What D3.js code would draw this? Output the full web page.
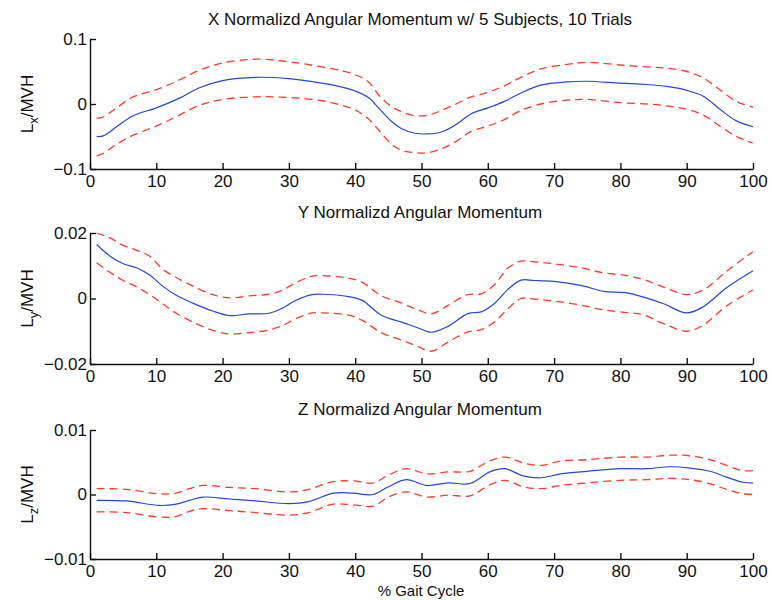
<!DOCTYPE html>
<html>
<head>
<meta charset="utf-8">
<script src="https://cdn.jsdelivr.net/npm/d3@7"></script>
<style>
body { margin: 0; background: #fff; }
svg text { font-family: "Liberation Sans", Arial, sans-serif; fill: #111; }
</style>
</head>
<body>
<div id="chart"></div>
<script>
// x ticks shared by all three panels
var gaitTicks = [0, 10, 20, 30, 40, 50, 60, 70, 80, 90, 100];

// X panel
var xPct = [1, 2, 4, 6.5, 10, 13.5, 16.5, 20, 25, 30, 35, 38, 40, 42, 43.7, 45.5, 47, 49, 51, 53, 55, 57.5, 60, 62.5, 65, 68, 72, 75, 80, 84, 87, 90, 92.5, 95, 97.5, 100];
var xMean = [-0.050, -0.049, -0.035, -0.018, -0.006, 0.009, 0.025, 0.036, 0.041, 0.039, 0.032, 0.026, 0.020, 0.010, -0.008, -0.027, -0.038, -0.045, -0.046, -0.043, -0.033, -0.015, -0.006, 0.004, 0.017, 0.029, 0.034, 0.035, 0.032, 0.030, 0.027, 0.021, 0.012, -0.008, -0.026, -0.035];
var xUpper = [-0.022, -0.020, -0.006, 0.011, 0.022, 0.037, 0.052, 0.063, 0.069, 0.065, 0.057, 0.051, 0.045, 0.034, 0.012, -0.004, -0.012, -0.018, -0.017, -0.010, -0.001, 0.011, 0.018, 0.028, 0.041, 0.054, 0.061, 0.064, 0.060, 0.057, 0.055, 0.050, 0.040, 0.022, 0.004, -0.005];
var xLower = [-0.080, -0.076, -0.062, -0.048, -0.034, -0.017, -0.002, 0.007, 0.011, 0.010, 0.005, -0.002, -0.009, -0.023, -0.042, -0.062, -0.071, -0.075, -0.075, -0.069, -0.059, -0.042, -0.034, -0.024, -0.010, 0.000, 0.006, 0.007, 0.002, 0.000, -0.003, -0.008, -0.017, -0.034, -0.050, -0.060];
var xTicks = [-0.1, 0, 0.1];

// Y panel
var yPct = [1, 3, 5, 7, 9, 11, 13, 15.5, 18.5, 21, 24, 27, 29, 31, 33.5, 35, 39, 41, 44, 47, 49.5, 51.5, 54, 57, 59, 61, 63, 65, 67, 70, 74, 77.5, 81, 83.5, 86.5, 90, 92.5, 96, 100];
var yMean = [0.0165, 0.0130, 0.0106, 0.0094, 0.0072, 0.0037, 0.0010, -0.0014, -0.0038, -0.0052, -0.0047, -0.0045, -0.0030, -0.0006, 0.0012, 0.0013, 0.0006, -0.0005, -0.0052, -0.0072, -0.0090, -0.0103, -0.0085, -0.0046, -0.0041, -0.0015, 0.0027, 0.0056, 0.0055, 0.0052, 0.0040, 0.0022, 0.0017, 0.0004, -0.0016, -0.0044, -0.0025, 0.0033, 0.0085];
var yUpper = [0.0200, 0.0185, 0.0162, 0.0148, 0.0129, 0.0089, 0.0064, 0.0038, 0.0012, 0.0002, 0.0008, 0.0013, 0.0025, 0.0048, 0.0068, 0.0070, 0.0062, 0.0050, 0.0008, -0.0014, -0.0035, -0.0047, -0.0021, 0.0012, 0.0014, 0.0042, 0.0092, 0.0114, 0.0112, 0.0106, 0.0094, 0.0078, 0.0070, 0.0058, 0.0035, 0.0012, 0.0026, 0.0083, 0.0143];
var yLower = [0.0109, 0.0080, 0.0055, 0.0036, 0.0012, -0.0017, -0.0045, -0.0072, -0.0097, -0.0108, -0.0104, -0.0096, -0.0083, -0.0062, -0.0044, -0.0044, -0.0051, -0.0066, -0.0105, -0.0127, -0.0147, -0.0161, -0.0133, -0.0102, -0.0095, -0.0072, -0.0032, 0.0000, -0.0002, -0.0008, -0.0020, -0.0035, -0.0043, -0.0050, -0.0077, -0.0100, -0.0081, -0.0023, 0.0026];
var yTicks = [-0.02, 0, 0.02];

// Z panel
var zPct = [1, 5.5, 10.5, 13, 15, 17, 21, 25, 30, 33, 36.7, 39.7, 42.7, 45, 47.7, 50.8, 54, 57.3, 60.3, 62.6, 65.3, 68, 71, 75, 80, 84, 87.5, 90.5, 93.5, 96, 98.5, 100];
var zMean = [-0.0009, -0.0010, -0.0017, -0.0015, -0.0009, -0.0004, -0.0007, -0.0010, -0.0014, -0.0011, 0.0002, 0.0002, 0.0000, 0.0012, 0.0023, 0.0014, 0.0018, 0.0017, 0.0035, 0.0040, 0.0029, 0.0026, 0.0032, 0.0036, 0.0040, 0.0040, 0.0043, 0.0041, 0.0036, 0.0027, 0.0019, 0.0018];
var zUpper = [0.0009, 0.0008, 0.0001, 0.0002, 0.0009, 0.0014, 0.0011, 0.0009, 0.0004, 0.0008, 0.0020, 0.0021, 0.0018, 0.0030, 0.0040, 0.0032, 0.0035, 0.0036, 0.0052, 0.0058, 0.0049, 0.0045, 0.0052, 0.0054, 0.0058, 0.0058, 0.0061, 0.0060, 0.0054, 0.0045, 0.0037, 0.0037];
var zLower = [-0.0027, -0.0028, -0.0035, -0.0034, -0.0026, -0.0022, -0.0025, -0.0028, -0.0032, -0.0028, -0.0015, -0.0016, -0.0018, -0.0004, 0.0004, -0.0004, -0.0001, -0.0002, 0.0015, 0.0022, 0.0012, 0.0009, 0.0014, 0.0018, 0.0022, 0.0023, 0.0025, 0.0023, 0.0017, 0.0008, 0.0001, 0.0000];
var zTicks = [-0.01, 0, 0.01];

var titles = ['X Normalizd Angular Momentum w/ 5 Subjects, 10 Trials', 'Y Normalizd Angular Momentum', 'Z Normalizd Angular Momentum'];
var subs = ['x', 'y', 'z'];

var W = 772, H = 600;
var svg = d3.select('#chart').append('svg')
	.attr('width', W)
	.attr('height', H);

var xScale = d3.scaleLinear().domain([0, 100]).range([90, 753]);

// panel boxes: top / bottom pixel of the y range, title baseline
var panels = [
	{pct: xPct, mean: xMean, upper: xUpper, lower: xLower, ticks: xTicks, top: 39, bottom: 169, titleY: 25},
	{pct: yPct, mean: yMean, upper: yUpper, lower: yLower, ticks: yTicks, top: 233, bottom: 364, titleY: 218},
	{pct: zPct, mean: zMean, upper: zUpper, lower: zLower, ticks: zTicks, top: 430, bottom: 559, titleY: 415}
];

var fmt = d3.format('');

panels.forEach(function(p, i){
	var yScale = d3.scaleLinear()
		.domain([p.ticks[0], p.ticks[2]])
		.range([p.bottom, p.top]);

	var g = svg.append('g');

	// 标题
	g.append('text')
		.attr('x', 420)
		.attr('y', p.titleY)
		.attr('text-anchor', 'middle')
		.style('font-size', '17px')
		.text(titles[i]);

	// axes, ticks point inward
	var ax = g.append('g')
		.attr('transform', 'translate(0,' + p.bottom + ')')
		.call(d3.axisBottom(xScale).tickValues(gaitTicks).tickSizeInner(-6).tickSizeOuter(0).tickPadding(6));
	var ay = g.append('g')
		.attr('transform', 'translate(' + xScale(0) + ',0)')
		.call(d3.axisLeft(yScale).tickValues(p.ticks).tickFormat(fmt).tickSizeInner(-6).tickSizeOuter(0).tickPadding(3));
	[ax, ay].forEach(function(a){
		a.select('.domain').attr('stroke', '#111').attr('stroke-width', 1.4);
		a.selectAll('.tick line').attr('stroke', '#111').attr('stroke-width', 1.4);
		a.selectAll('.tick text').style('font-size', '17px').attr('fill', '#111')
			.style('font-family', '"Liberation Sans", Arial, sans-serif');
	});

	// y label with subscript
	var lbl = g.append('text')
		.attr('transform', 'translate(33,' + ((p.top + p.bottom) / 2) + ') rotate(-90)')
		.attr('text-anchor', 'middle')
		.style('font-size', '17px');
	lbl.append('tspan').text('L');
	lbl.append('tspan').attr('dy', 5).style('font-size', '13px').text(subs[i]);
	lbl.append('tspan').attr('dy', -5).text('/MVH');

	var line = function(vals){
		return d3.line()
			.x(function(d, k){ return xScale(p.pct[k]); })
			.y(function(d){ return yScale(d); })
			.curve(d3.curveCatmullRom.alpha(0.5))(vals);
	};

	// dashed band
	[p.upper, p.lower].forEach(function(v){
		g.append('path')
			.attr('d', line(v))
			.attr('fill', 'none')
			.attr('stroke', '#ff3a28')
			.attr('stroke-width', 1.3)
			.attr('stroke-dasharray', '8,5');
	});
	// mean
	g.append('path')
		.attr('d', line(p.mean))
		.attr('fill', 'none')
		.attr('stroke', '#2248d8')
		.attr('stroke-width', 1.2);
});

svg.append('text')
	.attr('x', 421)
	.attr('y', 596)
	.attr('text-anchor', 'middle')
	.style('font-size', '15px')
	.text('% Gait Cycle');
</script>
</body>
</html>
